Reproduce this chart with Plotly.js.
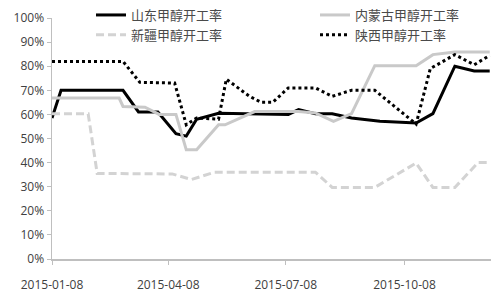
<!DOCTYPE html>
<html>
<head>
<meta charset="utf-8">
<script src="https://cdn.plot.ly/plotly-3.0.1.min.js"></script>
<style>html,body{margin:0;padding:0;background:#fff;}#chart{width:500px;height:297px;}</style>
</head>
<body>
<div id="chart"></div>
<script>
// Series names
const seriesNames = ['山东甲醇开工率', '内蒙古甲醇开工率', '新疆甲醇开工率', '陕西甲醇开工率'];

// 山东 (Shandong)
const sdDates = ['2015-01-08','2015-01-15','2015-03-04','2015-03-16','2015-03-31','2015-04-14','2015-04-22','2015-04-30','2015-05-17','2015-07-10','2015-07-18','2015-07-31','2015-08-13','2015-08-28','2015-09-19','2015-10-17','2015-10-30','2015-11-16','2015-12-01','2015-12-13'];
const sdValues = [58.5, 70, 70, 61, 61, 52, 51, 58, 60.5, 60, 62, 60.3, 60.3, 58.5, 57.2, 56.4, 60.3, 80, 78, 78];

// 内蒙古 (Inner Mongolia)
const nmDates = ['2015-01-08','2015-03-01','2015-03-04','2015-03-21','2015-04-01','2015-04-14','2015-04-22','2015-04-30','2015-05-17','2015-05-22','2015-06-14','2015-07-18','2015-07-31','2015-08-14','2015-08-28','2015-09-15','2015-10-17','2015-10-30','2015-11-16','2015-12-13'];
const nmValues = [66.8, 66.8, 63.3, 63, 60, 60, 45.3, 45.3, 55.7, 55.7, 61.2, 61.2, 60.6, 57.1, 60.3, 80.2, 80.2, 84.8, 85.9, 85.9];

// 新疆 (Xinjiang)
const xjDates = ['2015-01-08','2015-02-05','2015-02-12','2015-04-11','2015-04-26','2015-05-14','2015-07-31','2015-08-13','2015-09-15','2015-10-17','2015-10-30','2015-11-16','2015-12-04','2015-12-13'];
const xjValues = [60.3, 60.3, 35.5, 35.3, 33, 36, 36, 29.7, 29.7, 39.8, 29.7, 29.7, 40, 40];

// 陕西 (Shaanxi)
const sxDates = ['2015-01-08','2015-03-04','2015-03-17','2015-04-13','2015-04-22','2015-04-30','2015-05-17','2015-05-23','2015-06-10','2015-06-19','2015-06-28','2015-07-10','2015-07-31','2015-08-13','2015-08-28','2015-09-15','2015-10-17','2015-10-28','2015-11-16','2015-12-01','2015-12-13'];
const sxValues = [82, 82, 73.3, 73, 55.7, 58.5, 58, 74.6, 67.5, 65, 65, 71, 71, 67.5, 70, 70, 56, 79, 84.8, 80.6, 84.5];

// Axis ticks
const xTickVals = ['2015-01-08','2015-04-08','2015-07-08','2015-10-08'];
const xTickText = ['2015-01-08','2015-04-08','2015-07-08','2015-10-08'];

const traces = [
  {x: sdDates, y: sdValues, name: seriesNames[0], mode: 'lines', line: {color: '#000000', width: 3}, legend: 'legend'},
  {x: nmDates, y: nmValues, name: seriesNames[1], mode: 'lines', line: {color: '#c9c9c9', width: 3}, legend: 'legend2'},
  {x: xjDates, y: xjValues, name: seriesNames[2], mode: 'lines', line: {color: '#d3d3d3', width: 3, dash: '8px,4px'}, legend: 'legend'},
  {x: sxDates, y: sxValues, name: seriesNames[3], mode: 'lines', line: {color: '#000000', width: 3, dash: 'dot'}, legend: 'legend2'}
];

const tickFont = {family: 'Open Sans, Liberation Sans, sans-serif', size: 12, color: '#404040'};
const legendFont = {family: 'Noto Sans CJK SC, sans-serif', size: 13, color: '#4a4a4a'};

const layout = {
  width: 500, height: 297,
  margin: {l: 52, r: 9, t: 18, b: 38, autoexpand: false},
  paper_bgcolor: '#ffffff', plot_bgcolor: '#ffffff',
  showlegend: true,
  legend: {x: 91/500, y: 1, xref: 'container', yref: 'container', xanchor: 'left', yanchor: 'top',
           orientation: 'v', font: legendFont, bgcolor: 'rgba(0,0,0,0)', tracegroupgap: 0, traceorder: 'normal'},
  legend2: {x: 315/500, y: 1, xref: 'container', yref: 'container', xanchor: 'left', yanchor: 'top',
           orientation: 'v', font: legendFont, bgcolor: 'rgba(0,0,0,0)', tracegroupgap: 0, traceorder: 'normal'},
  xaxis: {
    type: 'date', range: ['2015-01-08', '2015-12-14'],
    tickmode: 'array', tickvals: xTickVals, ticktext: xTickText,
    ticks: 'outside', ticklen: 4, tickcolor: '#bfbfbf', tickwidth: 1,
    showline: true, linecolor: '#bfbfbf', linewidth: 1.5,
    showgrid: false, zeroline: false, tickfont: tickFont, ticklabelstandoff: 10
  },
  yaxis: {
    range: [0, 100], dtick: 10, tick0: 0, ticksuffix: '%',
    ticks: 'outside', ticklen: 4, tickcolor: '#bfbfbf', tickwidth: 1,
    showline: true, linecolor: '#bfbfbf', linewidth: 1.5,
    showgrid: false, zeroline: false, tickfont: tickFont
  }
};

Plotly.newPlot('chart', traces, layout, {staticPlot: true, displayModeBar: false});
</script>
</body>
</html>
